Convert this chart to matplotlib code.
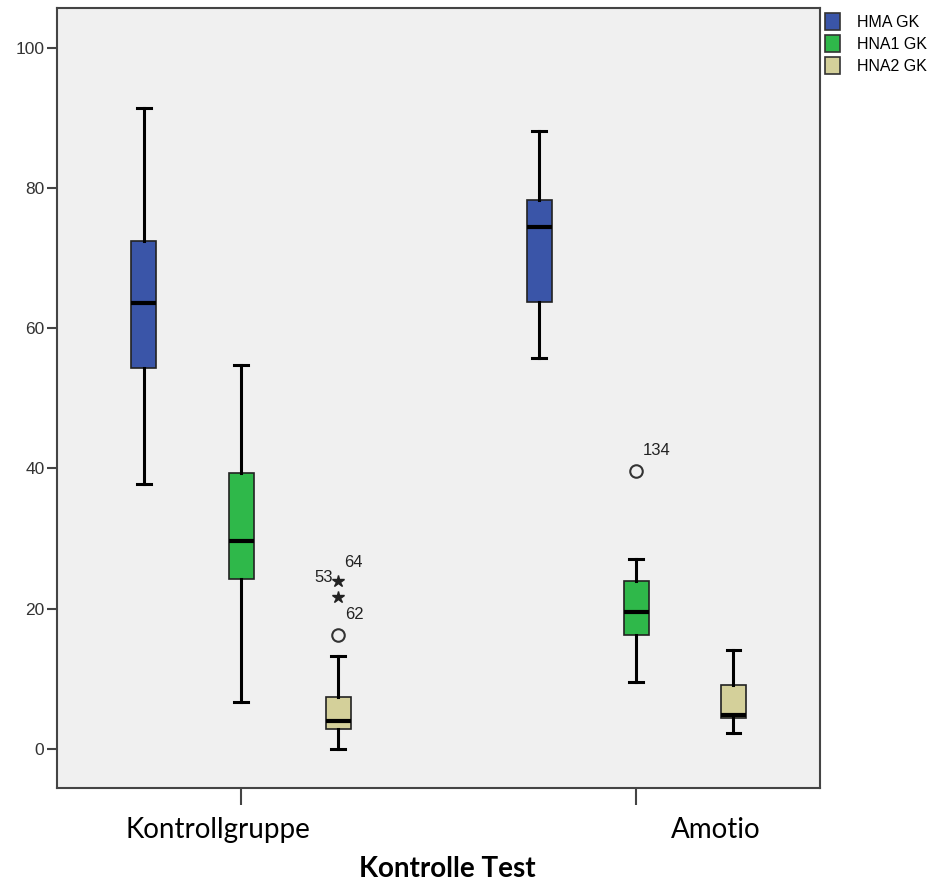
import matplotlib.pyplot as plt
from matplotlib.patches import Patch

# groups on the x axis and the three variables per group
groups = ['Kontrollgruppe', 'Amotio']
series = ['HMA GK', 'HNA1 GK', 'HNA2 GK']
colors = ['#3a55a8', '#2fb84a', '#d4d09a']

# five-number summaries: [low whisker, Q1, median, Q3, high whisker]
hma = [[37.8, 54.3, 63.6, 72.5, 91.4], [55.7, 63.7, 74.4, 78.3, 88.1]]
hna1 = [[6.7, 24.2, 29.7, 39.3, 54.7], [9.5, 16.3, 19.5, 23.9, 27.1]]
hna2 = [[0.0, 2.85, 4.0, 7.4, 13.2], [2.2, 4.4, 4.85, 9.1, 14.1]]

# outliers: (group, series, value, label)
circles = [(0, 2, 16.2, '62'), (1, 1, 39.6, '134')]
stars = [(0, 2, 24.0), (0, 2, 21.7)]

offset = 0.246
width = 0.063

fig = plt.figure(figsize=(9.37, 8.85), dpi=100)
ax = fig.add_axes([0.0608, 0.1096, 0.8148, 0.8814])
ax.set_facecolor('#f0f0f0')

for s, (data, col) in enumerate(zip([hma, hna1, hna2], colors)):
    stats = []
    pos = []
    for g in range(len(groups)):
        lo, q1, med, q3, hi = data[g]
        stats.append(dict(whislo=lo, q1=q1, med=med, q3=q3, whishi=hi, fliers=[]))
        pos.append(g + (s - 1) * offset)
    ax.bxp(stats, positions=pos, widths=width, patch_artist=True, showfliers=False,
           boxprops=dict(facecolor=col, edgecolor='#222222', linewidth=1.2),
           medianprops=dict(color='black', linewidth=3),
           whiskerprops=dict(color='black', linewidth=2.2),
           capprops=dict(color='black', linewidth=2.2),
           capwidths=width * 0.55, manage_ticks=False, zorder=3)

for g, s, v, lab in circles:
    x = g + (s - 1) * offset
    ax.plot(x, v, 'o', ms=9, mfc='none', mec='#333333', mew=1.5, zorder=4)
    ax.annotate(lab, (x, v), xytext=(5, 15), textcoords='offset points',
                ha='left', va='center', fontsize=12, family='Liberation Sans', color='#222222')

for g, s, v in stars:
    x = g + (s - 1) * offset
    ax.plot(x, v, '*', ms=9, color='#222222', zorder=4)

# the two labels next to the upper star
xs = 0 + offset
ax.annotate('64', (xs, 24.0), xytext=(4, 13), textcoords='offset points',
            ha='left', va='center', fontsize=12, family='Liberation Sans', color='#222222')
ax.annotate('53', (xs, 24.0), xytext=(-4, 2), textcoords='offset points',
            ha='right', va='center', fontsize=12, family='Liberation Sans', color='#222222')

ax.set_xlim(-0.466, 1.466)
ax.set_ylim(-5.6, 105.7)
ax.set_yticks([0, 20, 40, 60, 80, 100])
# tick marks at the groups, labels (SPSS style) slightly off-centre
ax.set_xticks(range(len(groups)))
ax.set_xticklabels(['', ''])
label_pos = [-0.058, 1.2]
ax.set_xticks(label_pos, minor=True)
ax.set_xticklabels(groups, minor=True, fontsize=20, family='Lato')
ax.tick_params(axis='x', which='minor', length=0, pad=21)
for lab in ax.get_yticklabels():
    lab.set_family('Liberation Sans')
    lab.set_fontsize(12.5)
    lab.set_color('#333333')
ax.tick_params(axis='y', length=7, width=1.5, color='#444444', pad=2)
ax.tick_params(axis='x', which='major', length=12, width=1.5, color='#444444')
for sp in ax.spines.values():
    sp.set_color('#444444')
    sp.set_linewidth(1.5)

ax.set_xlabel('Kontrolle Test', fontsize=20, fontweight='bold', family='Lato')
ax.xaxis.set_label_coords(0.511, -0.087)

handles = [Patch(facecolor=c, edgecolor='#333333', linewidth=1.2) for c in colors]
fig.legend(handles, series, loc='upper left', bbox_to_anchor=(0.874, 0.993),
           frameon=False, prop=dict(family='Liberation Sans', size=11.5),
           handlelength=0.9, handleheight=1.3, handletextpad=1.1, labelspacing=0.3,
           borderaxespad=0)

fig.savefig('out.png', dpi=100)
